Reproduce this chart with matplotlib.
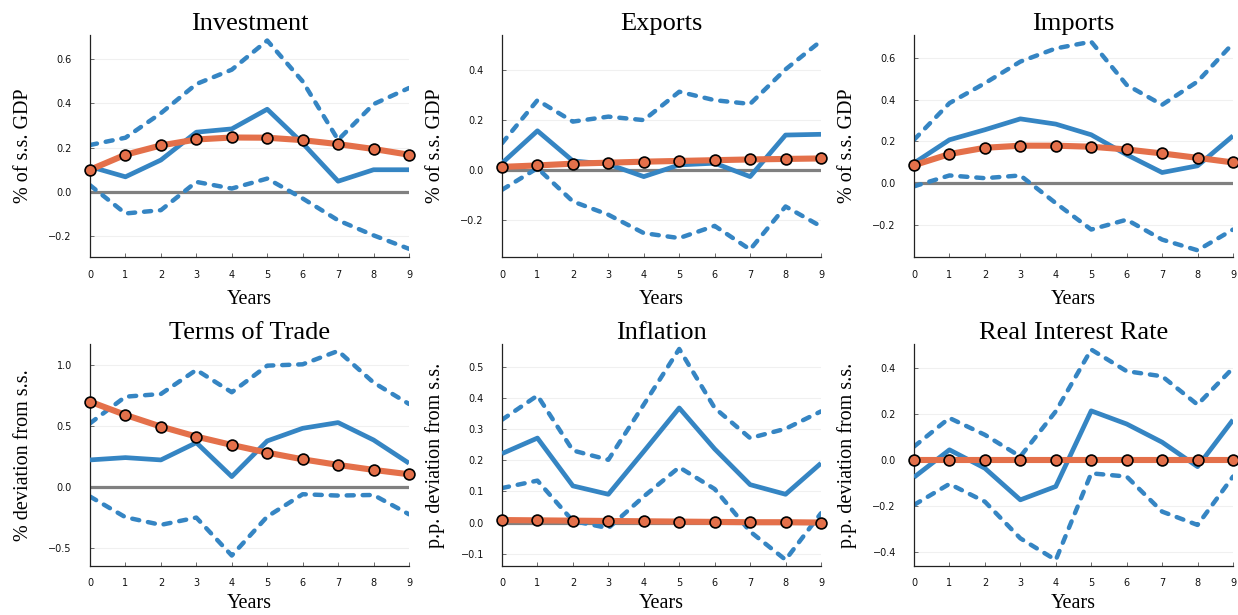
import matplotlib
matplotlib.use("Agg")
import matplotlib.pyplot as plt
import numpy as np

years = list(range(10))

titles = ["Investment", "Exports", "Imports",
          "Terms of Trade", "Inflation", "Real Interest Rate"]
ylabels = ["% of s.s. GDP", "% of s.s. GDP", "% of s.s. GDP",
           "% deviation from s.s.", "p.p. deviation from s.s.", "p.p. deviation from s.s."]

# Investment
inv_mean = [0.114, 0.068, 0.144, 0.27, 0.285, 0.374, 0.22, 0.048, 0.10, 0.10]
inv_hi = [0.212, 0.245, 0.356, 0.488, 0.553, 0.685, 0.50, 0.235, 0.397, 0.47]
inv_lo = [0.03, -0.098, -0.083, 0.045, 0.015, 0.06, -0.03, -0.129, -0.197, -0.258]
inv_model = [0.10, 0.168, 0.21, 0.237, 0.246, 0.245, 0.234, 0.216, 0.194, 0.168]

# Exports
exp_mean = [0.027, 0.157, 0.036, 0.023, -0.027, 0.02, 0.027, -0.027, 0.14, 0.143]
exp_hi = [0.107, 0.28, 0.194, 0.214, 0.20, 0.314, 0.28, 0.265, 0.404, 0.518]
exp_lo = [-0.08, 0.007, -0.127, -0.18, -0.254, -0.274, -0.225, -0.32, -0.147, -0.227]
exp_model = [0.012, 0.018, 0.025, 0.029, 0.033, 0.036, 0.039, 0.042, 0.044, 0.046]

# Imports
imp_mean = [0.097, 0.208, 0.256, 0.308, 0.283, 0.232, 0.137, 0.052, 0.084, 0.227]
imp_hi = [0.208, 0.383, 0.478, 0.581, 0.644, 0.676, 0.47, 0.375, 0.486, 0.668]
imp_lo = [-0.014, 0.038, 0.025, 0.038, -0.094, -0.22, -0.173, -0.268, -0.319, -0.22]
imp_model = [0.087, 0.14, 0.17, 0.18, 0.18, 0.175, 0.162, 0.143, 0.122, 0.10]

# Terms of trade
tot_mean = [0.222, 0.241, 0.222, 0.364, 0.085, 0.378, 0.482, 0.529, 0.386, 0.195]
tot_hi = [0.523, 0.742, 0.764, 0.962, 0.778, 0.997, 1.008, 1.118, 0.858, 0.682]
tot_lo = [-0.079, -0.249, -0.312, -0.252, -0.564, -0.244, -0.06, -0.071, -0.066, -0.225]
tot_model = [0.701, 0.592, 0.496, 0.414, 0.345, 0.282, 0.227, 0.181, 0.14, 0.104]

# Inflation
inf_mean = [0.222, 0.272, 0.118, 0.091, 0.229, 0.369, 0.237, 0.122, 0.091, 0.191]
inf_hi = [0.331, 0.409, 0.232, 0.202, 0.38, 0.559, 0.369, 0.272, 0.302, 0.358]
inf_lo = [0.111, 0.135, 0.005, -0.018, 0.084, 0.178, 0.108, -0.029, -0.12, 0.03]
inf_model = [0.008, 0.007, 0.006, 0.005, 0.004, 0.003, 0.002, 0.001, 0.001, 0.0]

# Real interest rate
rir_mean = [-0.074, 0.045, -0.035, -0.172, -0.114, 0.214, 0.157, 0.078, -0.028, 0.175]
rir_hi = [0.059, 0.183, 0.11, 0.016, 0.212, 0.48, 0.386, 0.364, 0.241, 0.40]
rir_lo = [-0.194, -0.103, -0.18, -0.339, -0.433, -0.057, -0.071, -0.223, -0.281, -0.071]
rir_model = [0.0, 0.0, 0.0, 0.0, 0.0, 0.0, 0.0, 0.0, 0.0, 0.0]

ylims = [(-0.295, 0.71), (-0.35, 0.542), (-0.351, 0.708),
         (-0.65, 1.175), (-0.14, 0.575), (-0.459, 0.504)]
yticks = [[-0.2, 0.0, 0.2, 0.4, 0.6], [-0.2, 0.0, 0.2, 0.4], [-0.2, 0.0, 0.2, 0.4, 0.6],
          [-0.5, 0.0, 0.5, 1.0], [-0.1, 0.0, 0.1, 0.2, 0.3, 0.4, 0.5], [-0.4, -0.2, 0.0, 0.2, 0.4]]

series = [
    (inv_mean, inv_hi, inv_lo, inv_model),
    (exp_mean, exp_hi, exp_lo, exp_model),
    (imp_mean, imp_hi, imp_lo, imp_model),
    (tot_mean, tot_hi, tot_lo, tot_model),
    (inf_mean, inf_hi, inf_lo, inf_model),
    (rir_mean, rir_hi, rir_lo, rir_model),
]

BLUE = "#3585c3"
ORANGE = "#e4704a"
SERIF = ["Liberation Serif", "DejaVu Serif"]

W, H = 1238, 615
fig = plt.figure(figsize=(W / 100, H / 100), dpi=100)

lefts = [90, 502, 914]
rights = [409, 821, 1233]
tops = [35, 344]
bottoms = [257, 566]
xlabel_offsets = [33, 28]

for i, (mean, hi, lo, model) in enumerate(series):
    r, c = divmod(i, 3)
    l, rr = lefts[c], rights[c]
    t, b = tops[r], bottoms[r]
    aw, ah = rr - l, b - t
    ax = fig.add_axes([l / W, 1 - b / H, aw / W, ah / H])
    ax.set_xlim(0, 9)
    ax.set_ylim(*ylims[i])
    ax.set_yticks(yticks[i])
    ax.set_xticks(years)
    ax.grid(axis="y", color="#000000", alpha=0.06, linewidth=0.8)
    ax.set_axisbelow(True)
    ax.axhline(0, color="#808080", linewidth=2.3, zorder=1)
    dash = (0, (1.6, 2.0))
    ax.plot(years, hi, color=BLUE, linewidth=3.2, linestyle=dash,
            dash_capstyle="round", zorder=2)
    ax.plot(years, lo, color=BLUE, linewidth=3.2, linestyle=dash,
            dash_capstyle="round", zorder=2)
    ax.plot(years, mean, color=BLUE, linewidth=3.4, zorder=3,
            solid_capstyle="butt")
    ax.plot(years, model, color=ORANGE, linewidth=4.4, zorder=4,
            marker="o", markersize=7.8, markerfacecolor=ORANGE,
            markeredgecolor="black", markeredgewidth=1.2, clip_on=False)
    for s in ["top", "right"]:
        ax.spines[s].set_visible(False)
    for s in ["left", "bottom"]:
        ax.spines[s].set_color("#222222")
        ax.spines[s].set_linewidth(0.9)
    ax.tick_params(axis="both", direction="in", length=3, width=0.6,
                   color="#555555", labelsize=7, labelcolor="#111111")
    ax.tick_params(axis="y", pad=13)
    ax.tick_params(axis="x", pad=9)
    ax.set_title(titles[i], fontfamily=SERIF, fontsize=19, pad=3)
    ax.set_xlabel("Years", fontfamily=SERIF, fontsize=14.5)
    ax.set_ylabel(ylabels[i], fontfamily=SERIF, fontsize=14.5)
    ax.yaxis.set_label_coords(-57 / aw, 0.5)
    ax.xaxis.set_label_coords(0.5, -xlabel_offsets[r] / ah)

fig.savefig("out.png", dpi=100)
